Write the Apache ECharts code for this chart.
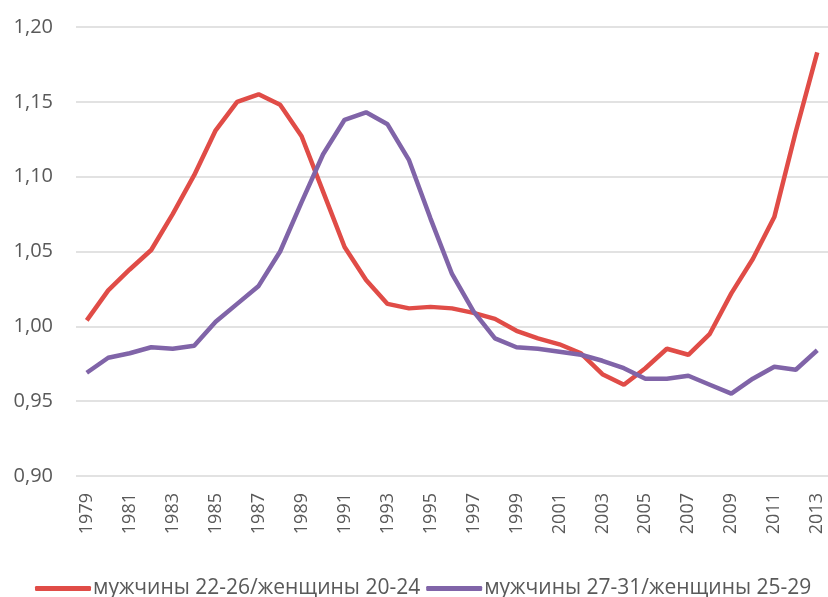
<!DOCTYPE html>
<html><head><meta charset="utf-8">
<script src="https://cdn.jsdelivr.net/npm/echarts@6/dist/echarts.min.js"></script>
<style>html,body{margin:0;padding:0;background:#fff}#c{width:828px;height:597px}</style>
</head><body><div id="c"></div>
<script>
const years = ['1979','1980','1981','1982','1983','1984','1985','1986','1987','1988','1989','1990','1991','1992','1993','1994','1995','1996','1997','1998','1999','2000','2001','2002','2003','2004','2005','2006','2007','2008','2009','2010','2011','2012','2013'];
const seriesRedName = 'мужчины 22-26/женщины 20-24';
const seriesPurpleName = 'мужчины 27-31/женщины 25-29';
const redValues = [1.004,1.024,1.038,1.051,1.075,1.101,1.131,1.150,1.155,1.148,1.127,1.090,1.053,1.031,1.015,1.012,1.013,1.012,1.009,1.005,0.997,0.992,0.988,0.982,0.968,0.961,0.972,0.985,0.981,0.995,1.022,1.045,1.073,1.130,1.183];
const purpleValues = [0.969,0.979,0.982,0.986,0.985,0.987,1.003,1.015,1.027,1.050,1.083,1.115,1.138,1.143,1.135,1.111,1.072,1.035,1.010,0.992,0.986,0.985,0.983,0.981,0.977,0.972,0.965,0.965,0.967,0.961,0.955,0.965,0.973,0.971,0.984];
const yMin = 0.90, yMax = 1.20, yStep = 0.05;

const chart = echarts.init(document.getElementById('c'));
const font = 'Open Sans, sans-serif';
chart.setOption({
  animation: false,
  grid: {left: 76, right: -4, top: 27, bottom: 121},
  legend: {
    top: 573, left: 30, itemGap: 6, itemWidth: 56, itemHeight: 5,
    icon: 'roundRect',
    textStyle: {fontFamily: font, fontSize: 21, color: '#595959', padding: [0, 0, 0, -3]},
    data: [seriesRedName, seriesPurpleName]
  },
  xAxis: {
    type: 'category', data: years, boundaryGap: true,
    axisLine: {show: false}, axisTick: {show: false},
    axisLabel: {interval: 1, rotate: 90, margin: 17, fontFamily: font, fontSize: 18, color: '#595959'}
  },
  yAxis: {
    type: 'value', min: yMin, max: yMax, interval: yStep,
    axisLine: {show: false}, axisTick: {show: false},
    splitLine: {lineStyle: {color: '#d9d9d9', width: 1.5}},
    axisLabel: {margin: 23, fontFamily: font, fontSize: 20, color: '#595959',
      formatter: v => v.toFixed(2).replace('.', ',')}
  },
  series: [
    {name: seriesRedName, type: 'line', data: redValues, symbol: 'none', lineStyle: {color: '#e04c47', width: 4.5}, itemStyle: {color: '#e04c47'}},
    {name: seriesPurpleName, type: 'line', data: purpleValues, symbol: 'none', lineStyle: {color: '#8064a8', width: 4.5}, itemStyle: {color: '#8064a8'}}
  ]
});
</script></body></html>
